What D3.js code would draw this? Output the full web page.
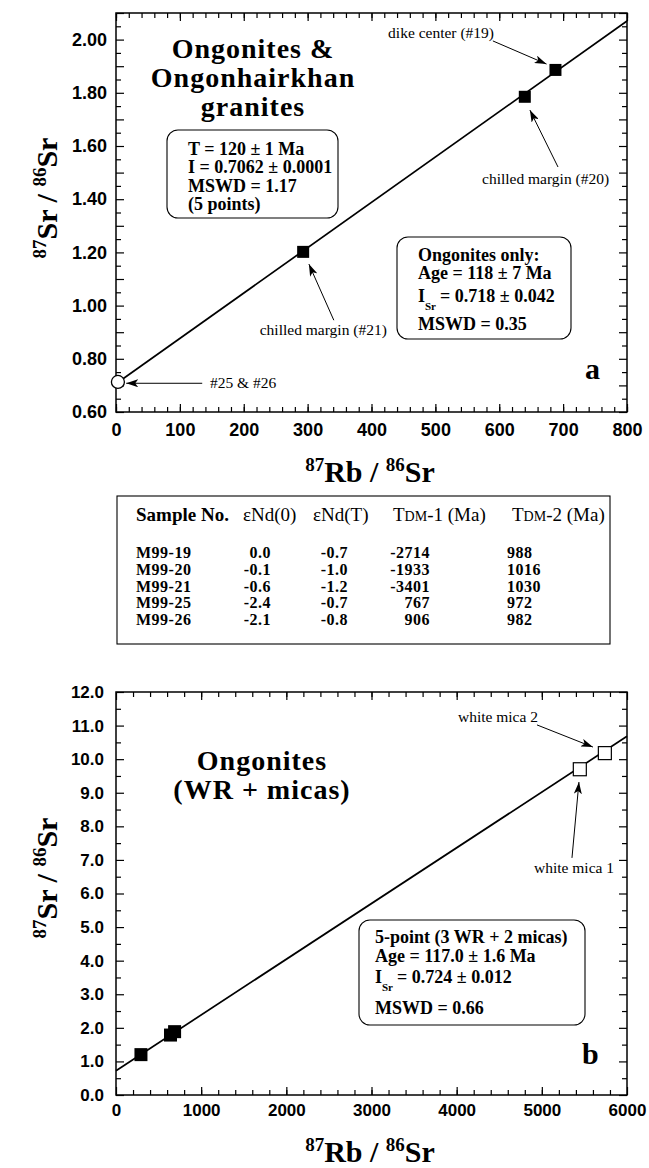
<!DOCTYPE html>
<html>
<head>
<meta charset="utf-8">
<script src="https://cdn.jsdelivr.net/npm/d3@7"></script>
<style>
  body { margin: 0; background: #fff; }
  svg { display: block; font-family: "Liberation Serif", "Times New Roman", serif; }
  .tick text { font-weight: bold; fill: #000; }
  .tick line { stroke: #000; stroke-width: 1.2; }
  .iso { fill: none; stroke: #000; stroke-width: 1.7; }
  .frame { fill: none; stroke: #000; stroke-width: 1.5; }
  .note { font-size: 15.5px; }
  .arrow { stroke: #000; stroke-width: 1; fill: none; }
  .bold { font-weight: bold; }
</style>
</head>
<body>
<div id="chart"></div>
<script>
// ---- panel a : whole rock isochron ----
const wrRb = [293, 640, 688];           // 87Rb/86Sr, chilled margin #21, #20, dike center #19
const wrSr = [1.202, 1.785, 1.886];     // 87Sr/86Sr
const openRb = [3];                     // #25 & #26
const openSr = [0.713];
const isoA = [[0, 0.7062], [800, 2.07]];
const xTicksA = [0, 100, 200, 300, 400, 500, 600, 700, 800];
const yTicksA = [0.6, 0.8, 1.0, 1.2, 1.4, 1.6, 1.8, 2.0];

// ---- panel b : WR + micas ----
const micaRb = [5446, 5740];            // white mica 1, white mica 2
const micaSr = [9.70, 10.18];
const isoB = [[0, 0.724], [6000, 10.68]];
const xTicksB = [0, 1000, 2000, 3000, 4000, 5000, 6000];
const yTicksB = [0, 1, 2, 3, 4, 5, 6, 7, 8, 9, 10, 11, 12];

// ---- Nd table ----
const samples = ["M99-19", "M99-20", "M99-21", "M99-25", "M99-26"];
const eNd0 = ["0.0", "-0.1", "-0.6", "-2.4", "-2.1"];
const eNdT = ["-0.7", "-1.0", "-1.2", "-0.7", "-0.8"];
const tdm1 = ["-2714", "-1933", "-3401", "767", "906"];
const tdm2 = ["988", "1016", "1030", "972", "982"];

// annotations: label [x, y] and arrow from -> to, all in data units
const notesA = [
  { text: "dike center (#19)", at: [426, 2.006], from: [590, 1.995], to: [674, 1.908] },
  { text: "chilled margin (#20)", at: [573, 1.457], from: [692, 1.521], to: [648, 1.735] },
  { text: "chilled margin (#21)", at: [225, 0.889], from: [341, 0.945], to: [302, 1.156] },
  { text: "#25 & #26", at: [147, 0.689], from: [135, 0.708], to: [16, 0.708] }
];
const notesB = [
  { text: "white mica 2", at: [4015, 11.11], from: [4943, 11.02], to: [5600, 10.36] },
  { text: "white mica 1", at: [4908, 6.61], from: [5354, 7.06], to: [5436, 9.32] }
];

const svg = d3.select("#chart").append("svg")
  .attr("width", 649)
  .attr("height", 1168);

svg.append("rect").attr("width", 649).attr("height", 1168).attr("fill", "#fff");

svg.append("defs").append("marker")
  .attr("id", "head")
  .attr("markerUnits", "userSpaceOnUse")
  .attr("markerWidth", 12).attr("markerHeight", 8)
  .attr("refX", 12).attr("refY", 4)
  .attr("orient", "auto")
  .append("path")
  .attr("d", "M0,0 L12,4 L0,8 L3,4 Z")
  .attr("fill", "#000");

function ratioLabel(g, a, b, x, y, size, rotate) {
  let t = g.append("text")
    .attr("class", "bold")
    .attr("text-anchor", "middle")
    .attr("font-size", size)
    .attr("transform", "translate(" + x + "," + y + ")" + (rotate ? " rotate(-90)" : ""));
  let sup = Math.round(size * 0.62);
  let up = Math.round(size * 0.38);
  t.append("tspan").attr("font-size", sup).attr("dy", -up).text("87");
  t.append("tspan").attr("dy", up).text(a + " / ");
  t.append("tspan").attr("font-size", sup).attr("dy", -up).text("86");
  t.append("tspan").attr("dy", up).text(b);
}

// ticks on all four sides, pointing inward
function frameAxes(g, x, y, w, h, o) {
  let sides = [
    { gen: d3.axisBottom, s: x, t: "translate(0," + h + ")", lab: true },
    { gen: d3.axisTop, s: x, t: null, lab: false },
    { gen: d3.axisLeft, s: y, t: null, lab: true },
    { gen: d3.axisRight, s: y, t: "translate(" + w + ",0)", lab: false }
  ];
  sides.forEach(function(sd, i) {
    let isX = i < 2;
    let minor = isX ? o.xMinor : o.yMinor;
    let major = isX ? o.xMajor : o.yMajor;
    let a1 = g.append("g").attr("transform", sd.t)
      .call(sd.gen(sd.s).tickValues(minor).tickSize(-o.minorLen).tickFormat(""));
    a1.select(".domain").remove();
    let a2 = g.append("g").attr("transform", sd.t)
      .call(sd.gen(sd.s).tickValues(major).tickSize(-o.majorLen)
        .tickPadding(isX ? o.xPad : o.yPad)
        .tickFormat(sd.lab ? (isX ? o.xFmt : o.yFmt) : ""));
    a2.select(".domain").remove();
    a2.selectAll("text").attr("font-size", o.fontSize).attr("font-family", null);
  });
  g.append("rect").attr("class", "frame").attr("width", w).attr("height", h);
}

function drawNotes(g, x, y, notes) {
  notes.forEach(function(n) {
    g.append("text").attr("class", "note")
      .attr("x", x(n.at[0])).attr("y", y(n.at[1]))
      .text(n.text);
    g.append("line").attr("class", "arrow")
      .attr("x1", x(n.from[0])).attr("y1", y(n.from[1]))
      .attr("x2", x(n.to[0])).attr("y2", y(n.to[1]))
      .attr("marker-end", "url(#head)");
  });
}

function infoBox(g, bx, by, bw, bh, lines, tx, size) {
  g.append("rect")
    .attr("x", bx).attr("y", by).attr("width", bw).attr("height", bh)
    .attr("rx", 11).attr("ry", 11)
    .attr("fill", "#fff").attr("stroke", "#000").attr("stroke-width", 1.1);
  lines.forEach(function(l) {
    if (l.sub) {
      g.append("text").attr("class", "bold").attr("font-size", size)
        .attr("x", tx).attr("y", l.y).text("I");
      g.append("text").attr("class", "bold").attr("font-size", 11)
        .attr("x", tx + 7).attr("y", l.y + 8).text("Sr");
      g.append("text").attr("class", "bold").attr("font-size", size)
        .attr("x", tx + 22).attr("y", l.y).text(l.text);
    } else {
      g.append("text").attr("class", "bold").attr("font-size", size)
        .attr("x", tx).attr("y", l.y).text(l.text);
    }
  });
}

function bigTitle(g, lines, cx, y0) {
  lines.forEach(function(s, i) {
    g.append("text").attr("class", "bold").attr("font-size", 28)
      .attr("letter-spacing", 1)
      .attr("text-anchor", "middle").attr("x", cx).attr("y", y0 + i * 29).text(s);
  });
}

// ================= panel a =================
let wA = 511, hA = 399;
let gA = svg.append("g").attr("transform", "translate(116,13)");
let xA = d3.scaleLinear().domain([0, 800]).range([0, wA]);
let yA = d3.scaleLinear().domain([0.6, 2.1]).range([hA, 0]);

frameAxes(gA, xA, yA, wA, hA, {
  xMajor: xTicksA, xMinor: d3.range(0, 801, 20),
  yMajor: d3.range(0.6, 2.101, 0.1), yMinor: d3.range(0.65, 2.1, 0.1),
  majorLen: 8, minorLen: 5, xPad: 11, yPad: 9, fontSize: 18,
  xFmt: d3.format("d"),
  yFmt: function(d) { return yTicksA.some(function(v) { return Math.abs(v - d) < 1e-6; }) ? d3.format(".2f")(d) : ""; }
});

gA.append("path").attr("class", "iso")
  .attr("d", d3.line().x(function(d) { return xA(d[0]); }).y(function(d) { return yA(d[1]); })(isoA));

gA.selectAll(".wr").data(wrRb).enter().append("rect")
  .attr("x", function(d) { return xA(d) - 6; })
  .attr("y", function(d, i) { return yA(wrSr[i]) - 6; })
  .attr("width", 12).attr("height", 12).attr("fill", "#000");

gA.selectAll(".op").data(openRb).enter().append("circle")
  .attr("cx", function(d) { return xA(d); })
  .attr("cy", function(d, i) { return yA(openSr[i]); })
  .attr("r", 6.5).attr("fill", "#fff").attr("stroke", "#000").attr("stroke-width", 1.3);

drawNotes(gA, xA, yA, notesA);

bigTitle(gA, ["Ongonites &", "Ongonhairkhan", "granites"], 137, 45);

infoBox(gA, 51, 117, 171, 88, [
  { y: 142, text: "T = 120 \u00b1 1 Ma" },
  { y: 160, text: "I = 0.7062 \u00b1 0.0001" },
  { y: 179, text: "MSWD = 1.17" },
  { y: 197, text: "(5 points)" }
], 72, 18);

infoBox(gA, 281, 224, 174, 102, [
  { y: 248, text: "Ongonites only:" },
  { y: 266, text: "Age = 118 \u00b1 7 Ma" },
  { y: 289, text: "= 0.718 \u00b1 0.042", sub: true },
  { y: 317, text: "MSWD = 0.35" }
], 302, 18);

gA.append("text").attr("class", "bold").attr("font-size", 30)
  .attr("x", 469).attr("y", 366).text("a");

ratioLabel(svg, "Sr", "Sr", 57, 198, 30, true);
ratioLabel(svg, "Rb", "Sr", 370, 482, 30, false);

// ================= Nd table =================
let tb = svg.append("g");
tb.append("rect").attr("x", 117).attr("y", 496).attr("width", 493).attr("height", 148)
  .attr("fill", "none").attr("stroke", "#000").attr("stroke-width", 1.1);

let hy = 521;
tb.append("text").attr("class", "bold").attr("font-size", 19).attr("x", 136).attr("y", hy).text("Sample No.");
tb.append("text").attr("font-size", 19).attr("x", 243).attr("y", hy).text("\u03b5Nd(0)");
tb.append("text").attr("font-size", 19).attr("x", 313).attr("y", hy).text("\u03b5Nd(T)");
[["-1 (Ma)", 393], ["-2 (Ma)", 512]].forEach(function(c) {
  let t = tb.append("text").attr("font-size", 19).attr("x", c[1]).attr("y", hy);
  t.append("tspan").text("T");
  t.append("tspan").attr("font-size", 14).text("DM");
  t.append("tspan").text(c[0]);
});

let cols = [
  { vals: samples, x: 136, anchor: "start" },
  { vals: eNd0, x: 271, anchor: "end" },
  { vals: eNdT, x: 348, anchor: "end" },
  { vals: tdm1, x: 430, anchor: "end" },
  { vals: tdm2, x: 507, anchor: "start" }
];
cols.forEach(function(c) {
  tb.selectAll(null).data(c.vals).enter().append("text")
    .attr("class", "bold").attr("font-size", 16)
    .attr("letter-spacing", 0.5)
    .attr("text-anchor", c.anchor)
    .attr("x", c.x)
    .attr("y", function(d, i) { return 558 + i * 16.8; })
    .text(function(d) { return d; });
});

// ================= panel b =================
let wB = 511, hB = 403;
let gB = svg.append("g").attr("transform", "translate(116,692)");
let xB = d3.scaleLinear().domain([0, 6000]).range([0, wB]);
let yB = d3.scaleLinear().domain([0, 12]).range([hB, 0]);

frameAxes(gB, xB, yB, wB, hB, {
  xMajor: xTicksB, xMinor: d3.range(200, 6000, 200),
  yMajor: yTicksB, yMinor: d3.range(0.5, 12, 1),
  majorLen: 8, minorLen: 5, xPad: 9, yPad: 12, fontSize: 17,
  xFmt: d3.format("d"), yFmt: d3.format(".1f")
});

gB.append("path").attr("class", "iso")
  .attr("d", d3.line().x(function(d) { return xB(d[0]); }).y(function(d) { return yB(d[1]); })(isoB));

gB.selectAll(".wr").data(wrRb).enter().append("rect")
  .attr("x", function(d) { return xB(d) - 6.5; })
  .attr("y", function(d, i) { return yB(wrSr[i]) - 6.5; })
  .attr("width", 13).attr("height", 13).attr("fill", "#000");

gB.selectAll(".mica").data(micaRb).enter().append("rect")
  .attr("x", function(d) { return xB(d) - 6.5; })
  .attr("y", function(d, i) { return yB(micaSr[i]) - 6.5; })
  .attr("width", 13).attr("height", 13)
  .attr("fill", "#fff").attr("stroke", "#000").attr("stroke-width", 1.2);

drawNotes(gB, xB, yB, notesB);

bigTitle(gB, ["Ongonites", "(WR + micas)"], 146, 78);

infoBox(gB, 243, 228, 226, 105, [
  { y: 251, text: "5-point (3 WR + 2 micas)" },
  { y: 270, text: "Age = 117.0 \u00b1 1.6 Ma" },
  { y: 291, text: "= 0.724 \u00b1 0.012", sub: true },
  { y: 322, text: "MSWD = 0.66" }
], 259, 18);

gB.append("text").attr("class", "bold").attr("font-size", 30)
  .attr("x", 466).attr("y", 372).text("b");

ratioLabel(svg, "Sr", "Sr", 57, 878, 30, true);
ratioLabel(svg, "Rb", "Sr", 370, 1162, 30, false);
</script>
</body>
</html>
